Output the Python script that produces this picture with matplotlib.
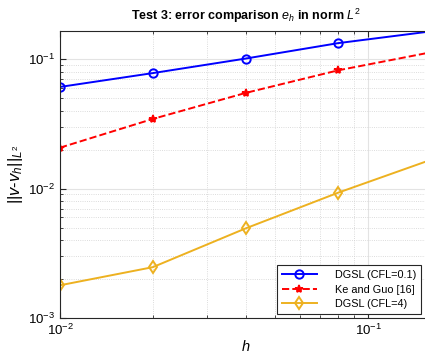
import matplotlib
matplotlib.use("Agg")
import matplotlib.pyplot as plt
from matplotlib.ticker import LogLocator, NullFormatter

plt.rcParams.update({
    'font.family': ['Liberation Sans', 'DejaVu Sans'],
    'font.size': 9,
    'mathtext.fontset': 'custom',
    'mathtext.rm': 'Liberation Sans',
    'mathtext.it': 'Liberation Sans:italic',
    'mathtext.bf': 'Liberation Sans:bold',
})

# ============================== data =========================================

h = [0.01, 0.02, 0.04, 0.08, 0.16]
err_dgsl_01 = [0.061, 0.078, 0.101, 0.133, 0.164]
err_ke_guo = [0.0207, 0.0345, 0.0548, 0.082, 0.113]
err_dgsl_4 = [0.00179, 0.00247, 0.00492, 0.0093, 0.0167]

labels = ['DGSL (CFL=0.1)', 'Ke and Guo [16]', 'DGSL (CFL=4)']

# ============================== plot =========================================

fig = plt.figure(figsize=(4.25, 3.57), dpi=100)
# axes run past the right edge, the reference is cropped there
ax = fig.add_axes([60 / 425, 39 / 357, 371 / 425, 287 / 357])

ax.loglog(h, err_dgsl_01, '-o', color='#0000FF', lw=1.4, ms=6,
          mfc='none', mew=1.4, label=labels[0])
ax.loglog(h, err_ke_guo, '--*', color='#FF0000', lw=1.4, ms=6,
          mew=1.2, label=labels[1])
ax.loglog(h, err_dgsl_4, '-d', color='#EDB120', lw=1.4, ms=6,
          mfc='none', mew=1.4, label=labels[2])

ax.set_xlim(0.01, 0.16)
ax.set_ylim(1e-3, 0.165)

ax.xaxis.set_minor_locator(LogLocator(base=10, subs=range(2, 10)))
ax.yaxis.set_minor_locator(LogLocator(base=10, subs=range(2, 10)))
ax.xaxis.set_minor_formatter(NullFormatter())
ax.yaxis.set_minor_formatter(NullFormatter())

ax.grid(True, which='major', color='#e3e3e3', lw=0.8, ls='-')
ax.grid(True, which='minor', color='#d0d0d0', lw=0.6, ls=':')
ax.set_axisbelow(True)

ax.tick_params(which='both', direction='in', top=True, right=True,
               labelsize=9.5, color='#262626')
ax.tick_params(which='major', length=4)
ax.tick_params(which='minor', length=2)
for s in ax.spines.values():
    s.set_color('#262626')
    s.set_linewidth(0.8)

ax.set_xlabel('$h$', fontsize=10.5, labelpad=1)
ax.set_ylabel(r'||$v$-$v_h$||$_{L^2}$', fontsize=12, labelpad=2)
ax.set_title(r'Test 3: error comparison $e_h$ in norm $L^2$',
             fontsize=9, fontweight='bold', pad=8)

leg = ax.legend(loc='lower left', bbox_to_anchor=(0.585, 0.014),
                fontsize=7.8, fancybox=False, edgecolor='#262626',
                framealpha=1, handlelength=3.2, borderpad=0.45,
                labelspacing=0.42, handletextpad=1.7, borderaxespad=0)
leg.get_frame().set_linewidth(0.8)

fig.savefig('out.png', dpi=100)
